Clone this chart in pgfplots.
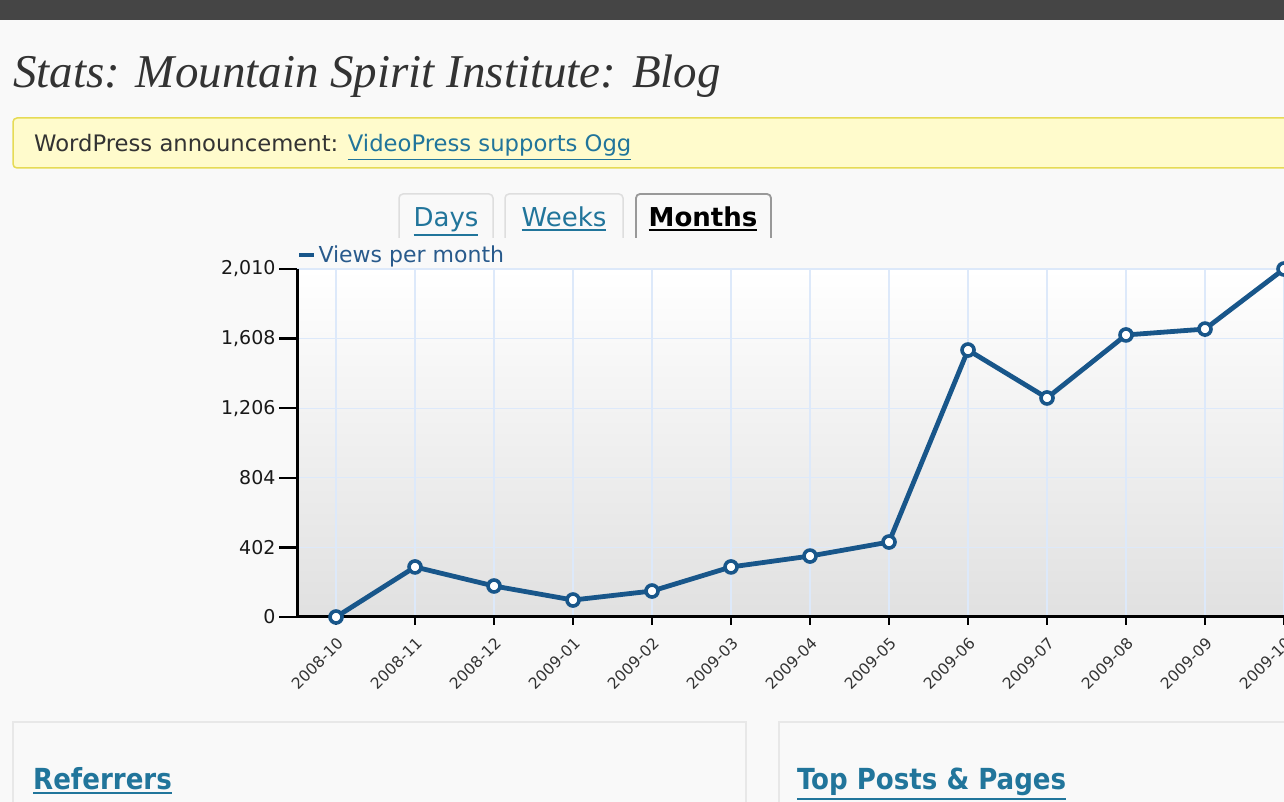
\documentclass[border=0pt]{standalone}
\usepackage{fontspec}
\setmainfont{DejaVu Sans}
\newfontfamily\titlefont{Liberation Serif}
\newfontfamily\condfont{DejaVu Sans Condensed}
\usepackage{pgfplots}
\pgfplotsset{compat=1.18}
\definecolor{pagebg}{HTML}{F9F9F9}
\definecolor{topbar}{HTML}{454545}
\definecolor{annfill}{HTML}{FFFBCC}
\definecolor{anndraw}{HTML}{E6DB55}
\definecolor{linkblue}{HTML}{21759B}
\definecolor{dataline}{RGB}{24,86,138}
\definecolor{gridblue}{HTML}{DDE9FA}
\definecolor{legtext}{RGB}{40,90,140}
\newcommand\ul[2][1.5pt]{\leavevmode\vtop{\hbox{#2}\kern2pt\hrule height #1}}
\begin{document}
\begin{tikzpicture}[x=1pt,y=1pt]
\path[use as bounding box] (0,0) rectangle (1284,802);
\fill[pagebg] (0,0) rectangle (1284,802);
\fill[topbar] (0,782) rectangle (1284,802);
% title
\node[anchor=base west, inner sep=0pt, text=black!80] at (13,714) {\titlefont\itshape\fontsize{47}{52}\selectfont Stats: Mountain Spirit Institute: Blog};
% announcement
\draw[fill=annfill, draw=anndraw, line width=1.5pt, rounded corners=4pt] (13,634) rectangle (1300,684);
\node[anchor=base west, inner sep=0pt] at (34,650) {\fontsize{22.7}{26}\selectfont \textcolor{black!80}{WordPress announcement:} \textcolor{linkblue}{\ul[1pt]{VideoPress supports Ogg}}};
% tabs
\draw[black!13, line width=1.5pt, rounded corners=4pt] (399,564) -- (399,608) -- (493,608) -- (493,564);
\draw[black!13, line width=1.5pt, rounded corners=4pt] (505,564) -- (505,608) -- (623,608) -- (623,564);
\draw[black!40, line width=1.8pt, rounded corners=4pt] (636,564) -- (636,608) -- (771,608) -- (771,564);
\node[anchor=base, inner sep=0pt, text=linkblue] at (446,575) {\fontsize{26}{30}\selectfont\ul{Days}};
\node[anchor=base, inner sep=0pt, text=linkblue] at (564,575) {\fontsize{26}{30}\selectfont\ul{Weeks}};
\node[anchor=base, inner sep=0pt, text=black] at (703,575) {\fontsize{26}{30}\selectfont\bfseries\ul[2pt]{Months}};
% bottom boxes
\draw[black!9, line width=1.2pt, fill=pagebg] (13,-5) rectangle (746,80);
\draw[black!9, line width=1.2pt, fill=pagebg] (779,-5) rectangle (1300,80);
\node[anchor=base west, inner sep=0pt, text=linkblue] at (33,12) {\condfont\bfseries\fontsize{29}{33}\selectfont\ul[2pt]{Referrers}};
\node[anchor=base west, inner sep=0pt, text=linkblue] at (797,12) {\condfont\bfseries\fontsize{29}{33}\selectfont\ul[2pt]{Top Posts \& Pages}};
\begin{axis}[
  at={(297pt,185pt)}, anchor=south west,
  scale only axis, width=987pt, height=348pt,
  xmin=-0.494, xmax=12, ymin=0, ymax=2010,
  axis lines*=left,
  axis line style={line width=3pt, black},
  xtick={0,...,12},
  xticklabels={2008-10,2008-11,2008-12,2009-01,2009-02,2009-03,2009-04,2009-05,2009-06,2009-07,2009-08,2009-09,2009-10},
  ytick={0,402,804,1206,1608,2010},
  yticklabels={0,402,804,{1,206},{1,608},{2,010}},
  tick align=outside,
  major tick length=18pt,
  xtick style={line width=2.5pt, black, /pgfplots/major tick length=8pt},
  ytick style={line width=2.5pt, black},
  grid=major,
  major grid style={line width=1.2pt, gridblue},
  axis background/.style={top color=white, bottom color=black!12},
  x tick label style={rotate=45, anchor=north east, font=\fontsize{15.5}{18}\selectfont, text=black!80, inner sep=1pt},
  y tick label style={font=\fontsize{19}{22}\selectfont, text=black!90},
  legend style={at={(0,1)}, anchor=south west, draw=none, fill=none, inner sep=0pt, outer sep=0pt, yshift=3pt, font=\fontsize{22}{25}\selectfont, text=legtext},
  legend image code/.code={\draw[line width=4.5pt, dataline] (0pt,0pt) -- (15pt,0pt);},
  legend cell align=left,
]
\addplot[dataline, line width=4.8pt, mark=*, mark size=6pt, mark options={fill=white, draw=dataline, line width=3.6pt}]
coordinates {
(0,0) (1,289) (2,179) (3,98) (4,150) (5,289) (6,352) (7,433) (8,1542) (9,1265) (10,1629) (11,1663) (12,2010)
};
\addlegendentry{Views per month}
\end{axis}
\end{tikzpicture}
\end{document}
